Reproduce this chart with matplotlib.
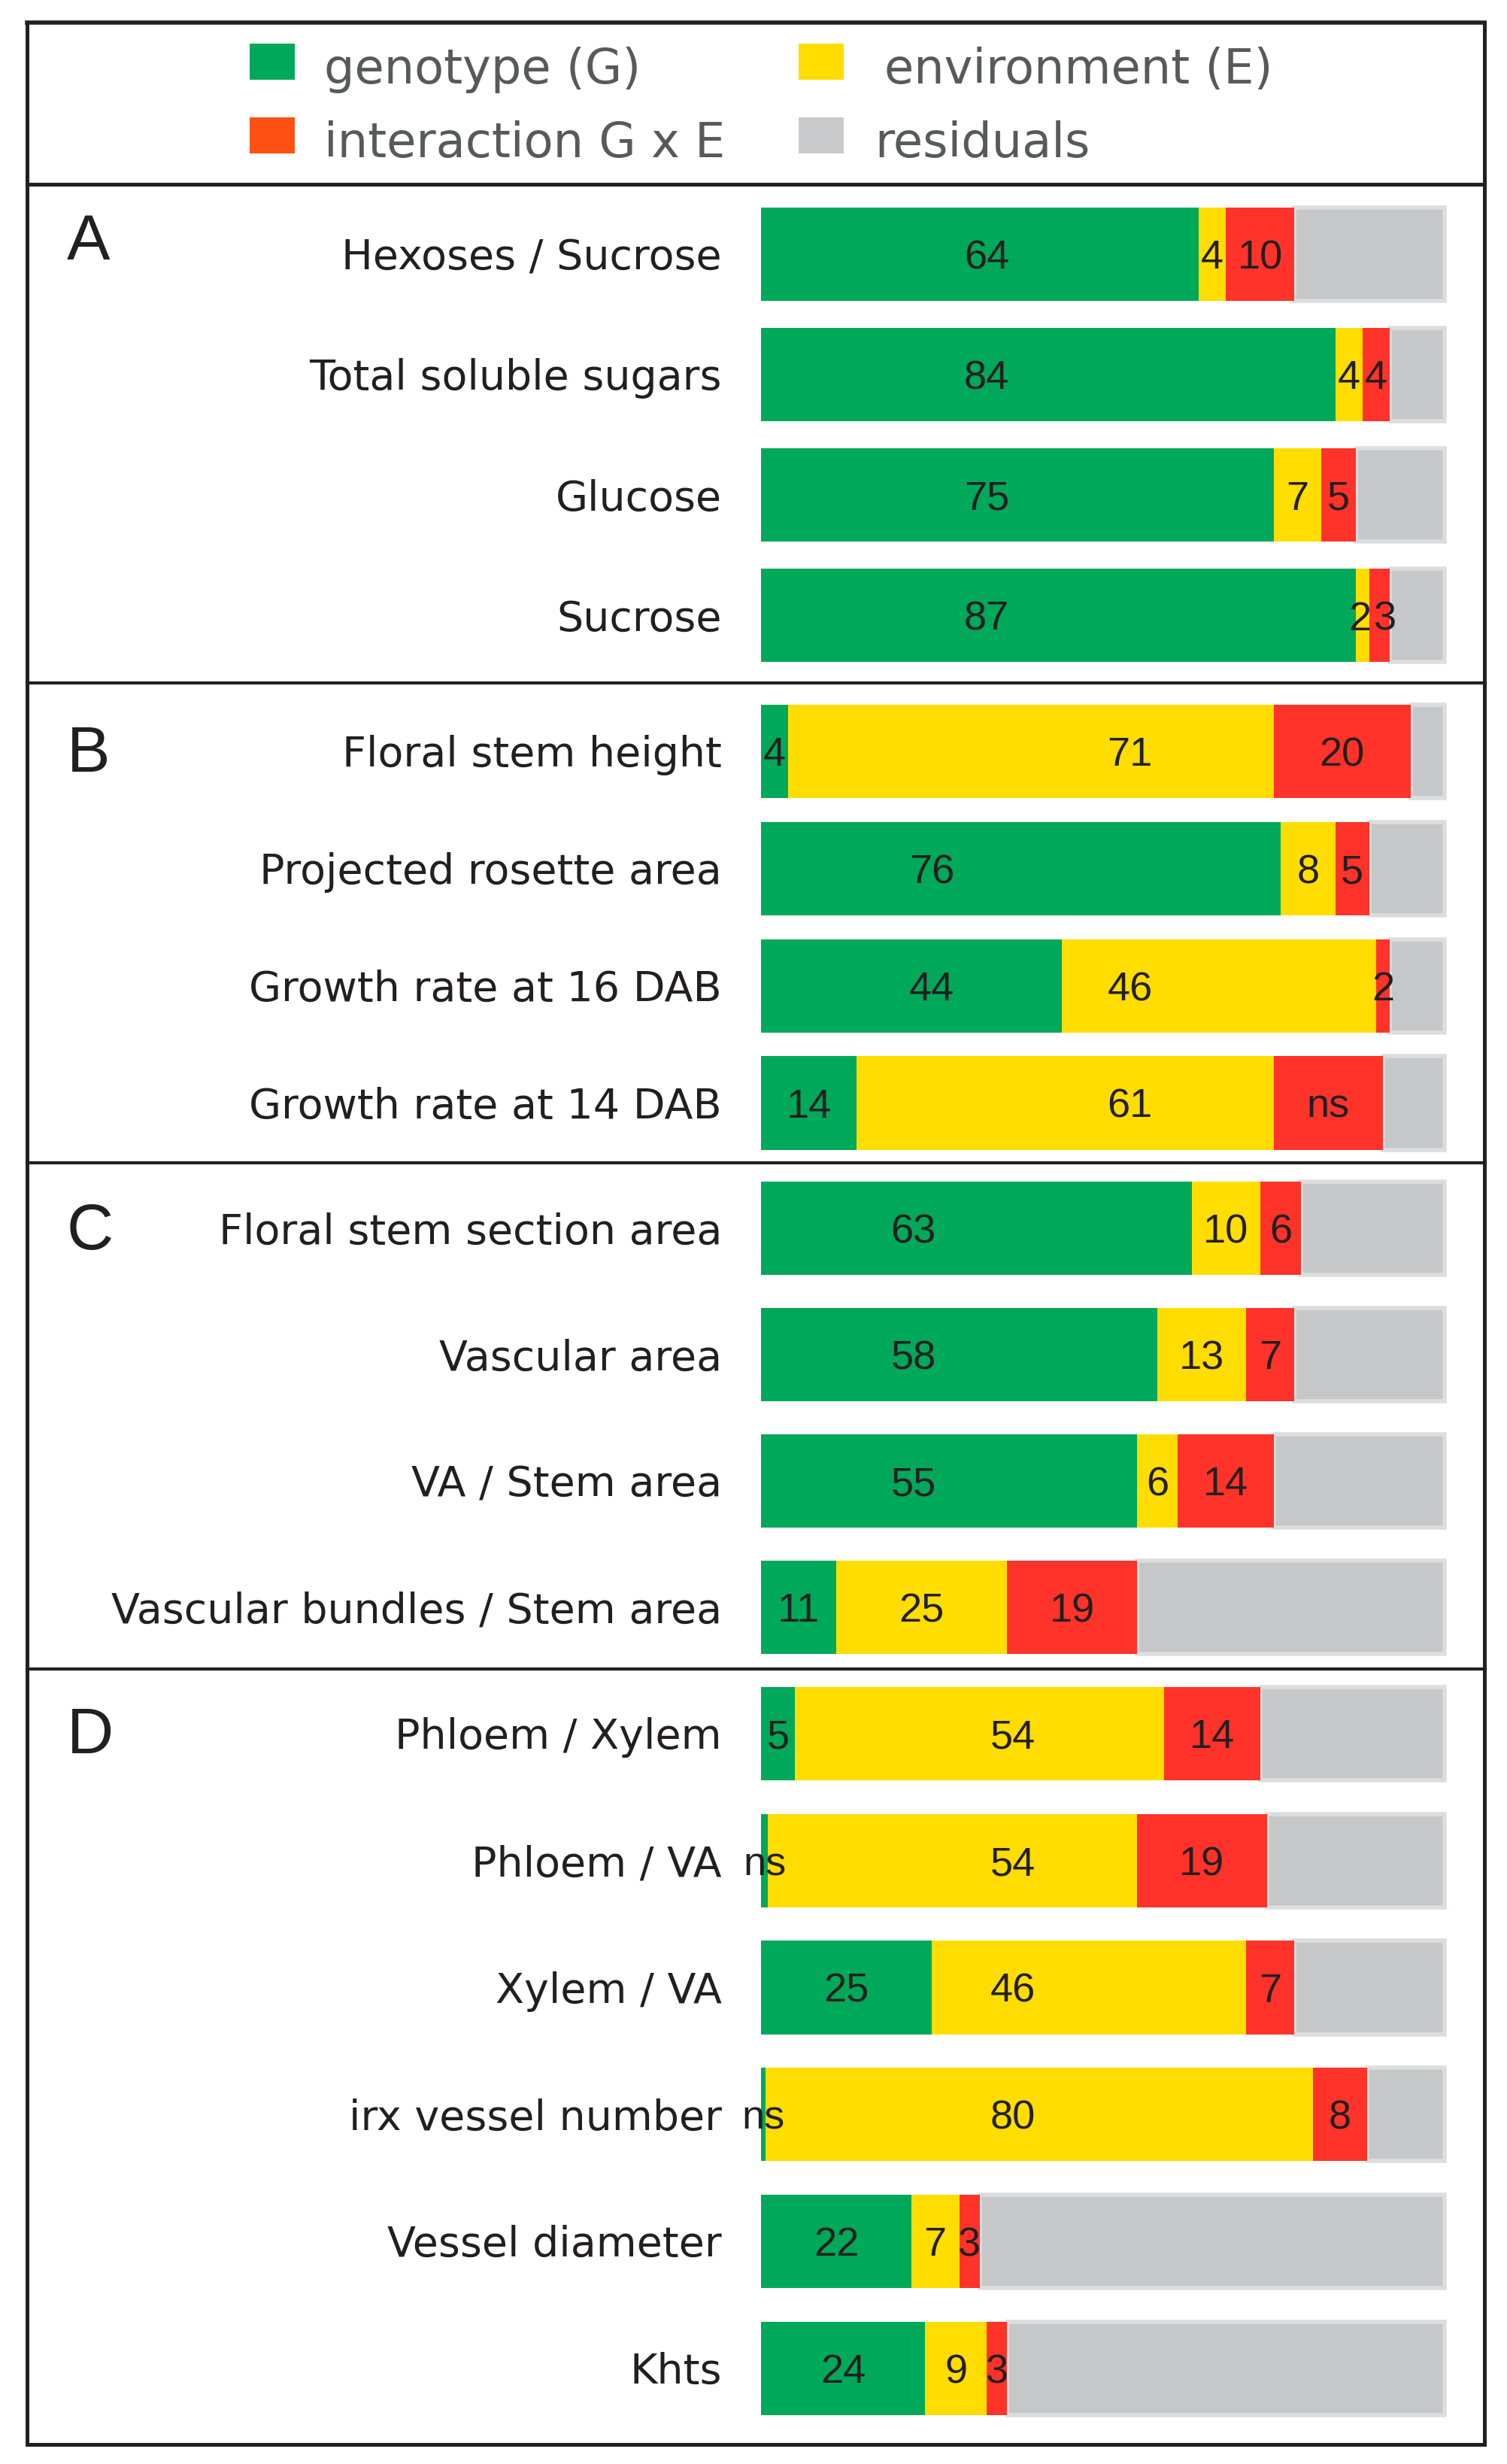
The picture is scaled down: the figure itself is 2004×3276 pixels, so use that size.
import matplotlib
matplotlib.use("Agg")
import matplotlib.pyplot as plt
from matplotlib.patches import Rectangle
from matplotlib.lines import Line2D
import matplotlib.transforms as mtransforms
import numpy as np

# ---------------- data ----------------
components = ["genotype (G)", "environment (E)", "interaction G x E", "residuals"]
panel_letters = ["A", "B", "C", "D"]

traits_A = ["Hexoses / Sucrose", "Total soluble sugars", "Glucose", "Sucrose"]
genotype_A = [64, 84, 75, 87]
environment_A = [4, 4, 7, 2]
interaction_A = [10, 4, 5, 3]
residuals_A = [22, 8, 13, 8]
labels_G_A = ["64", "84", "75", "87"]
labels_E_A = ["4", "4", "7", "2"]
labels_I_A = ["10", "4", "5", "3"]

traits_B = ["Floral stem height", "Projected rosette area",
            "Growth rate at 16 DAB", "Growth rate at 14 DAB"]
genotype_B = [4, 76, 44, 14]
environment_B = [71, 8, 46, 61]
interaction_B = [20, 5, 2, 16]
residuals_B = [5, 11, 8, 9]
labels_G_B = ["4", "76", "44", "14"]
labels_E_B = ["71", "8", "46", "61"]
labels_I_B = ["20", "5", "2", "ns"]

traits_C = ["Floral stem section area", "Vascular area",
            "VA / Stem area", "Vascular bundles / Stem area"]
genotype_C = [63, 58, 55, 11]
environment_C = [10, 13, 6, 25]
interaction_C = [6, 7, 14, 19]
residuals_C = [21, 22, 25, 45]
labels_G_C = ["63", "58", "55", "11"]
labels_E_C = ["10", "13", "6", "25"]
labels_I_C = ["6", "7", "14", "19"]

traits_D = ["Phloem / Xylem", "Phloem / VA", "Xylem / VA",
            "irx vessel number", "Vessel diameter", "Khts"]
genotype_D = [5, 1, 25, 0.7, 22, 24]
environment_D = [54, 54, 46, 80, 7, 9]
interaction_D = [14, 19, 7, 8, 3, 3]
residuals_D = [27, 26, 22, 11.3, 68, 64]
labels_G_D = ["5", "ns", "25", "ns", "22", "24"]
labels_E_D = ["54", "54", "46", "80", "7", "9"]
labels_I_D = ["14", "19", "7", "8", "3", "3"]

# label anchor (percent along bar) where the original places its labels; None = centred
label_at_G = {"A": [33, 33, 33, 33], "B": [None, 25, 25, None],
              "C": [22.3, 22.3, 22.3, None], "D": [None] * 6}
label_at_E = {"A": [None, None, None, 87.6], "B": [54, None, 54, 54],
              "C": [None] * 4, "D": [36.8, 36.8, 36.8, 36.8, None, None]}
label_at_I = {"A": [None, None, None, 91.3], "B": [None] * 4,
              "C": [None] * 4, "D": [None] * 6}

# ---------------- style ----------------
bar_colors = ["#00A85A", "#FFDD00", "#FF3329", "#C6C7C8"]
legend_colors = ["#00A85A", "#FFDD00", "#FF5014", "#C8C9CA"]
resid_edge = "#DCDDDE"
ink = "#231F20"
legend_ink = "#58595B"

FW, FH = 2004, 3276
fig = plt.figure(figsize=(FW / 100, FH / 100), dpi=100)
fig.patch.set_facecolor("white")


def fxy(x, y):
    return x / FW, 1 - y / FH


# ---- frame ----
frame_l, frame_r, frame_t, frame_b = 36, 1974, 30, 3250
dividers = [245, 908, 1546, 2219]
for (x0, y0, x1, y1, lw) in [(frame_l, frame_t, frame_r, frame_t, 4.0),
                             (frame_l, frame_b, frame_r, frame_b, 3.6),
                             (frame_l, frame_t, frame_l, frame_b, 3.6),
                             (frame_r, frame_t, frame_r, frame_b, 3.6)]:
    a, b = fxy(x0, y0)
    c, d = fxy(x1, y1)
    fig.add_artist(Line2D([a, c], [b, d], color=ink, lw=lw,
                          transform=fig.transFigure, solid_capstyle="projecting"))
for i, yv in enumerate(dividers):
    a, b = fxy(frame_l, yv)
    c, d = fxy(frame_r, yv)
    fig.add_artist(Line2D([a, c], [b, d], color=ink, lw=3.6 if i == 0 else 3.0,
                          transform=fig.transFigure))

# ---- legend (drawn by hand) ----
leg_font = 46
leg_cap_px = 0.729 * leg_font * 100 / 72
leg_items = [(332, 82, 431), (1062, 82, 1176), (332, 180, 431), (1062, 180, 1163)]
order = [0, 1, 2, 3]
for k, (px, py, tx) in zip(order, leg_items):
    x0, y0 = fxy(px, py + 24)
    fig.add_artist(Rectangle((x0, y0), 60 / FW, 48 / FH, transform=fig.transFigure,
                             facecolor=legend_colors[k], edgecolor="none"))
    bx, by = fxy(tx, py + 6 + leg_cap_px / 2)
    fig.text(bx, by, components[k], fontsize=leg_font, color=legend_ink,
             family="DejaVu Sans", ha="left", va="baseline")

# ---- panels ----
panels = [
    ("A", traits_A, genotype_A, environment_A, interaction_A, residuals_A,
     labels_G_A, labels_E_A, labels_I_A),
    ("B", traits_B, genotype_B, environment_B, interaction_B, residuals_B,
     labels_G_B, labels_E_B, labels_I_B),
    ("C", traits_C, genotype_C, environment_C, interaction_C, residuals_C,
     labels_G_C, labels_E_C, labels_I_C),
    ("D", traits_D, genotype_D, environment_D, interaction_D, residuals_D,
     labels_G_D, labels_E_D, labels_I_D),
]
panel_bounds = [(245, 908), (908, 1546), (1546, 2219), (2219, 3250)]
panel_ylims = [(3.56, -0.58), (3.51, -0.584), (3.49, -0.52), (5.6, -0.51)]
panel_pitch = [160, 155.7, 167.7, 168.6]
letter_centre_y = [314, 995, 1630, 2300]

bar_x0_px, px_per_pct = 1012, 9.09
xlim = (-bar_x0_px / px_per_pct, (FW - bar_x0_px) / px_per_pct)

val_font = 39
val_cap_pt = 0.716 * val_font
row_font = 40
row_cap_pt = 0.729 * row_font
label_right = (960 - bar_x0_px) / px_per_pct

for p, (letter, traits, G, E, I, R, lG, lE, lI) in enumerate(panels):
    top, bot = panel_bounds[p]
    ax = fig.add_axes([0, 1 - bot / FH, 1, (bot - top) / FH])
    ax.set_xlim(*xlim)
    ax.set_ylim(*panel_ylims[p])
    ax.axis("off")
    ax.patch.set_alpha(0)

    y = np.arange(len(traits))
    h = 124 / panel_pitch[p]
    G = np.array(G, float); E = np.array(E, float)
    I = np.array(I, float); R = np.array(R, float)
    lefts = [np.zeros_like(G), G, G + E, G + E + I]
    widths = [G, E, I, R]
    for k in range(4):
        if k == 3:
            ax.barh(y, widths[k], left=lefts[k], height=h, color=bar_colors[k],
                    edgecolor=resid_edge, linewidth=4.0, zorder=1)
        else:
            ax.barh(y, widths[k], left=lefts[k], height=h, color=bar_colors[k],
                    edgecolor="none", linewidth=0, zorder=2)

    vtrans = mtransforms.offset_copy(ax.transData, fig=fig, y=-val_cap_pt / 2, units="points")
    rtrans = mtransforms.offset_copy(ax.transData, fig=fig, y=-row_cap_pt / 2, units="points")
    for i in range(len(traits)):
        segs = [(lG[i], lefts[0][i], widths[0][i], label_at_G[letter][i]),
                (lE[i], lefts[1][i], widths[1][i], label_at_E[letter][i]),
                (lI[i], lefts[2][i], widths[2][i], label_at_I[letter][i])]
        for txt, l, w, at in segs:
            if not txt:
                continue
            xc = at if at is not None else l + w / 2
            ax.text(xc, y[i], txt, transform=vtrans, fontsize=val_font, color=ink,
                    family="Liberation Sans", ha="center", va="baseline", zorder=5)
        ax.text(label_right, y[i], traits[i], transform=rtrans, fontsize=row_font,
                color=ink, family="DejaVu Sans", ha="right", va="baseline")

    lx, ly = fxy(89, letter_centre_y[p] + 31)
    fig.text(lx, ly, letter, fontsize=62, color=ink, family="Liberation Sans",
             ha="left", va="baseline")

fig.savefig("out.png", dpi=100, facecolor="white")
